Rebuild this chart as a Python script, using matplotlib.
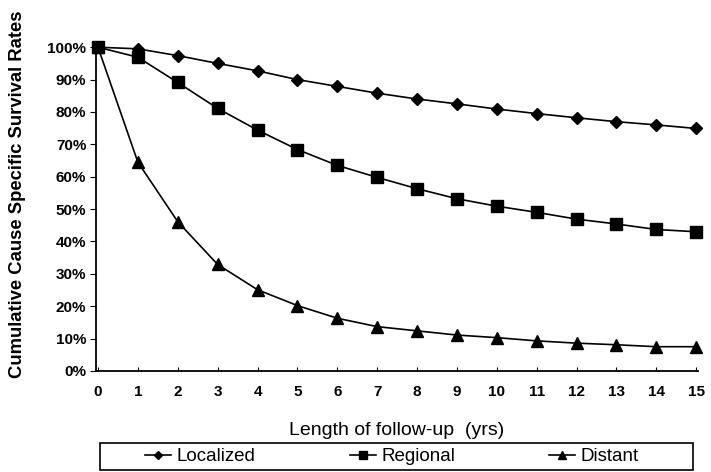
import matplotlib
matplotlib.use("Agg")
import matplotlib.pyplot as plt
from matplotlib.patches import Rectangle
from matplotlib.ticker import PercentFormatter

plt.rcParams["font.family"] = ["Liberation Sans", "DejaVu Sans"]

# follow-up years and cause specific survival (%) by stage
years = list(range(16))
localized = [100, 99.5, 97.4, 95.0, 92.7, 90.0, 87.9, 85.8, 84.0, 82.5, 80.9, 79.5, 78.2, 77.0, 76.0, 74.9]
regional = [100, 96.9, 89.1, 81.1, 74.4, 68.4, 63.5, 59.8, 56.3, 53.2, 50.9, 49.0, 46.9, 45.4, 43.7, 43.0]
distant = [100, 64.5, 46.1, 32.9, 25.1, 20.2, 16.3, 13.7, 12.4, 11.1, 10.3, 9.3, 8.6, 8.1, 7.5, 7.5]

fig = plt.figure(figsize=(7.11, 4.72), dpi=100)
ax = fig.add_axes([0.135, 0.214, 0.847, 0.686])

ax.plot(years, localized, "-D", color="black", lw=1.2, ms=6, label="Localized", clip_on=False)
ax.plot(years, regional, "-s", color="black", lw=1.2, ms=8, label="Regional", clip_on=False)
ax.plot(years, distant, "-^", color="black", lw=1.2, ms=8, label="Distant", clip_on=False)

ax.set_xlim(-0.05, 15.05)
ax.set_ylim(0, 100)
ax.set_xticks(years)
ax.set_yticks(range(0, 101, 10))
ax.yaxis.set_major_formatter(PercentFormatter(decimals=0))
for lbl in ax.get_xticklabels() + ax.get_yticklabels():
    lbl.set_fontweight("bold")
    lbl.set_fontsize(11)
ax.tick_params(axis="x", direction="in", length=3, pad=10)
ax.tick_params(axis="y", direction="out", length=4, pad=3)

ax.spines["top"].set_visible(False)
ax.spines["right"].set_visible(False)
ax.spines["left"].set_linewidth(1.3)
ax.spines["bottom"].set_linewidth(1.3)

ax.set_xlabel("Length of follow-up  (yrs)", fontsize=14, labelpad=17)
ax.set_ylabel("Cumulative Cause Specific Survival Rates", fontsize=13.3, fontweight="bold")
ax.yaxis.set_label_coords(-0.116, 0.545)

# legend box spans the width of the plot, entries centred inside it
fig.patches.append(Rectangle((100 / 711, 2 / 472), 593 / 711, 27 / 472, transform=fig.transFigure,
                             fill=False, edgecolor="black", linewidth=1.2))
leg = fig.legend(loc="center", bbox_to_anchor=(392 / 711, 15.5 / 472), ncol=3, frameon=False,
                 fontsize=13.5, handlelength=1.4, handletextpad=0.3, columnspacing=5.0,
                 markerscale=0.75)

fig.savefig("out.png", dpi=100)
